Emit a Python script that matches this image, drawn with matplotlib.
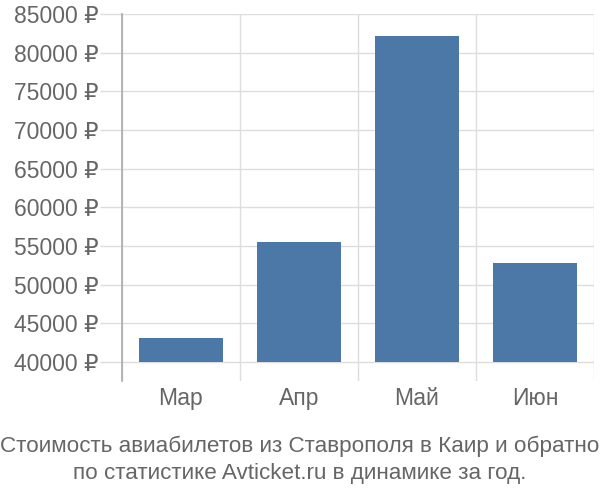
import matplotlib
matplotlib.use('Agg')
from matplotlib import pyplot as plt
from matplotlib.ticker import FuncFormatter

# данные с графика
months = ['Мар', 'Апр', 'Май', 'Июн']
prices = [43100, 55500, 82200, 52800]
y_ticks = list(range(40000, 85001, 5000))
title = 'Стоимость авиабилетов из Ставрополя в Каир и обратно\nпо статистике Avticket.ru в динамике за год.'

plt.rcParams['font.family'] = ['Liberation Sans', 'DejaVu Sans']

fig = plt.figure(figsize=(6, 5), dpi=100)
ax = fig.add_axes([122 / 600, 1 - 381 / 500, (594 - 122) / 600, (381 - 14) / 500])

base = 40000
ax.bar(range(len(months)), [p - base for p in prices], bottom=base,
       width=0.72, color='#4c78a8', zorder=3)

ax.set_xlim(-0.5, len(months) - 0.5)
ax.set_ylim(37550, 85000)
ax.set_yticks(y_ticks)
ax.yaxis.set_major_formatter(FuncFormatter(lambda v, p: f'{int(v)} ₽'))
ax.set_xticks(range(len(months)))
ax.set_xticklabels(months)

# сетка
ax.set_xticks([i - 0.5 for i in range(len(months) + 1)], minor=True)
ax.grid(True, which='minor', axis='x', color='#dddddd', linewidth=1, zorder=0)
ax.grid(True, which='major', axis='y', color='#dddddd', linewidth=1, zorder=0)

ax.tick_params(axis='y', length=16, color='#dddddd', width=1, pad=1,
               labelsize=16.5, labelcolor='#666666')
ax.tick_params(axis='x', which='major', length=0, pad=4,
               labelsize=16.5, labelcolor='#666666')
ax.tick_params(axis='x', which='minor', length=0)

for s in ['top', 'right', 'bottom']:
    ax.spines[s].set_visible(False)
ax.spines['left'].set_color('#aaaaaa')
ax.spines['left'].set_linewidth(1.2)

fig.text(0.5, 1 - 460 / 500, title, ha='center', va='center',
         fontsize=16.2, color='#666666', linespacing=1.38)

plt.savefig('out.png', dpi=100)
